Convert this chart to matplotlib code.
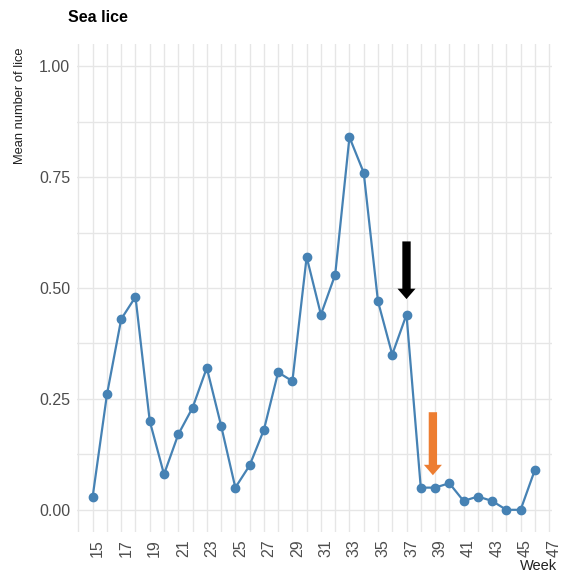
import numpy as np
import matplotlib.pyplot as plt
import matplotlib.transforms as mtransforms

weeks = list(range(15, 47))
lice = [0.03, 0.26, 0.43, 0.48, 0.20, 0.08, 0.17, 0.23, 0.32, 0.19,
        0.05, 0.10, 0.18, 0.31, 0.29, 0.57, 0.44, 0.53, 0.84, 0.76,
        0.47, 0.35, 0.44, 0.05, 0.05, 0.06, 0.02, 0.03, 0.02, 0.00,
        0.00, 0.09]
x_ticks = list(range(15, 48, 2))
y_ticks = [0.0, 0.25, 0.5, 0.75, 1.0]

# arrows: (week, start, end, colour)
arrows = [(37, 0.605, 0.475, 'black'), (38.85, 0.22, 0.078, '#ED7D31')]

plt.rcParams['font.family'] = ['Liberation Sans Narrow', 'Liberation Sans', 'DejaVu Sans']

fig = plt.figure(figsize=(5.66, 5.76), dpi=100)
ax = fig.add_axes([77 / 566, 44 / 576, (552 - 77) / 566, (532 - 44) / 576])

ax.plot(weeks, lice, color='#4682B4', lw=1.6, marker='o', ms=6, zorder=3)

for wk, y0, y1, col in arrows:
    ax.annotate('', xy=(wk, y1), xytext=(wk, y0),
                arrowprops=dict(arrowstyle='simple,head_width=1.3,head_length=0.75,tail_width=0.6',
                                color=col, lw=0, shrinkA=0, shrinkB=0), zorder=4)

ax.set_xticks(x_ticks)
ax.set_xticks(range(14, 48), minor=True)
ax.set_yticks(y_ticks)
ax.set_yticks(np.arange(0.125, 1.0, 0.25), minor=True)
ax.set_yticklabels([f'{v:.2f}' for v in y_ticks])
ax.set_xticklabels([str(t) for t in x_ticks], rotation=90)
ax.set_xlim(13.9, 47.2)
ax.set_ylim(-0.05, 1.05)
ax.tick_params(which='both', length=0, colors='#4d4d4d', labelsize=11.5)
ax.tick_params(axis='x', pad=5)
ax.tick_params(axis='y', pad=5)
ax.grid(which='both', color='#e6e6e6', lw=1.0)
ax.set_axisbelow(True)
for s in ax.spines.values():
    s.set_visible(False)

# ggplot puts rotated labels slightly right of the tick
shift = mtransforms.ScaledTranslation(5 / 100, 0, fig.dpi_scale_trans)
for lab in ax.get_xticklabels():
    lab.set_transform(lab.get_transform() + shift)

fig.text(68 / 566, 1 - 17 / 576, 'Sea lice', fontsize=11.5, fontweight='bold', va='center', ha='left')
fig.text(20 / 566, 1 - 47 / 576, 'Mean number of lice', rotation=90, fontsize=9.3,
         va='top', ha='center', color='#222222')
fig.text(557 / 566, 1 - 566 / 576, 'Week', fontsize=10.5, ha='right', va='center', color='#222222')

fig.savefig('out.png', dpi=100)
